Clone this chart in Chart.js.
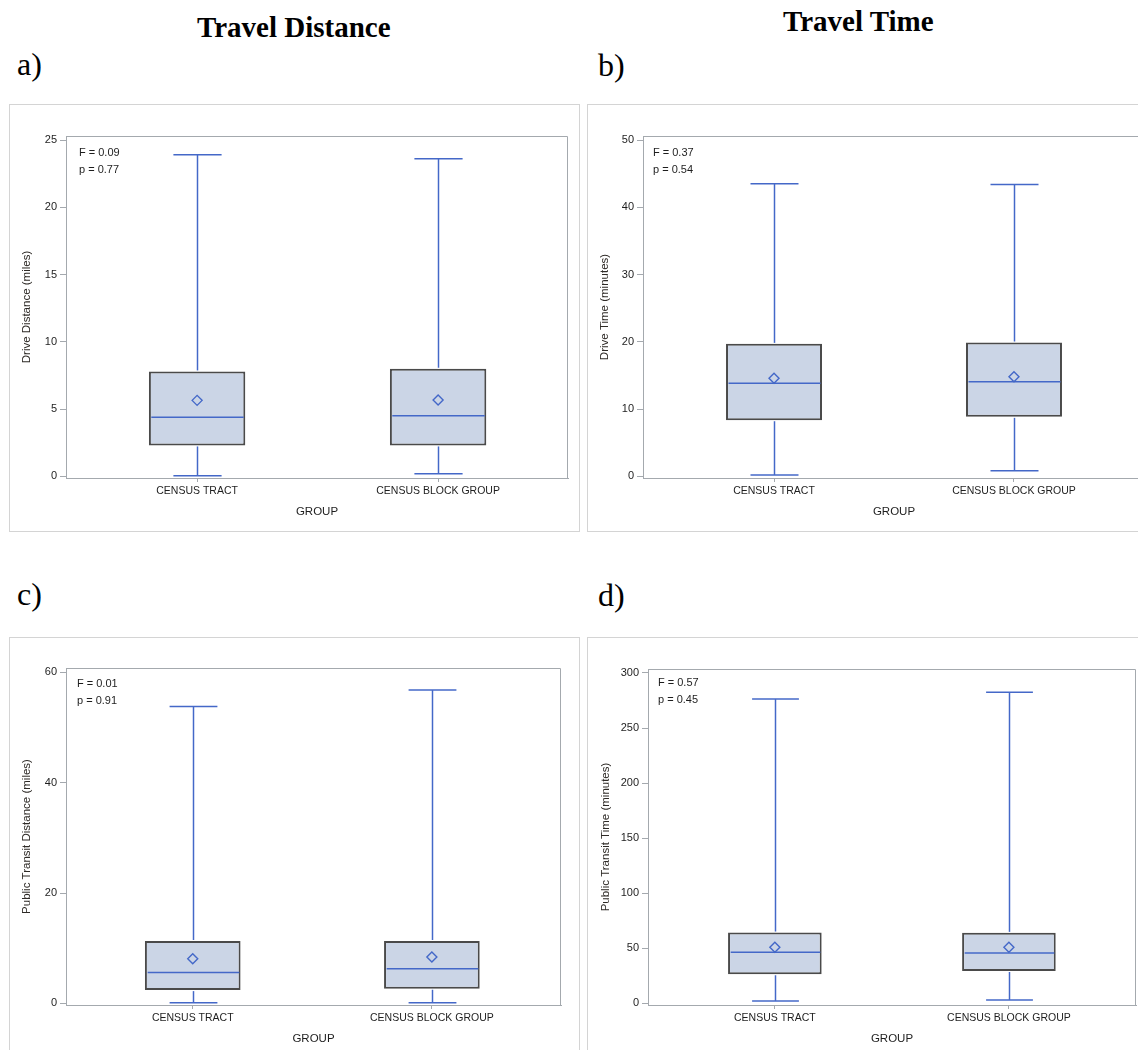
<!DOCTYPE html>
<html>
<head>
<meta charset="utf-8">
<script src="https://cdn.jsdelivr.net/npm/chart.js@4.4.1/dist/chart.umd.min.js"></script>
<style>
html,body{margin:0;padding:0;background:#fff;overflow:hidden;width:1138px;height:1050px;}
.frame{position:absolute;border:1px solid #d4d4d4;box-sizing:border-box;}
canvas{position:absolute;}
.hdr{position:absolute;font-family:'Liberation Serif','Times New Roman',serif;font-weight:bold;font-size:29px;line-height:29px;color:#000;white-space:nowrap;}
.lbl{position:absolute;font-family:'Liberation Serif','Times New Roman',serif;font-size:32px;line-height:32px;color:#000;white-space:nowrap;}
</style>
</head>
<body>
<div class="hdr" style="left:197px;top:13px;">Travel Distance</div>
<div class="hdr" style="left:783px;top:7px;">Travel Time</div>
<div class="lbl" style="left:17px;top:48px;">a)</div>
<div class="lbl" style="left:598px;top:49px;">b)</div>
<div class="lbl" style="left:17px;top:578px;">c)</div>
<div class="lbl" style="left:598px;top:579px;">d)</div>

<div class="frame" style="left:9px;top:104px;width:571px;height:428px;"></div>
<div class="frame" style="left:587px;top:104px;width:600px;height:428px;"></div>
<div class="frame" style="left:9px;top:637px;width:571px;height:500px;"></div>
<div class="frame" style="left:587px;top:637px;width:600px;height:500px;"></div>

<canvas id="ca" width="570" height="427" style="left:9px;top:104px;"></canvas>
<canvas id="cb" width="570" height="427" style="left:587px;top:104px;"></canvas>
<canvas id="cc" width="570" height="420" style="left:9px;top:637px;"></canvas>
<canvas id="cd" width="570" height="420" style="left:587px;top:637px;"></canvas>

<script>
// ---------- DATA ----------
const groups = ['CENSUS TRACT', 'CENSUS BLOCK GROUP'];
const groupPos = [0, 1];
const xTitle = 'GROUP';

// a) Drive distance (miles)
const aTitle = 'Drive Distance (miles)';
const aMin = [0.05, 0.2];
const aQ1 = [2.3, 2.3];
const aMedian = [4.4, 4.5];
const aQ3 = [7.8, 8.0];
const aMax = [23.9, 23.6];
const aMean = [5.65, 5.68];
const aTicks = [0, 5, 10, 15, 20, 25];
const aStats = ['F = 0.09', 'p = 0.77'];

// b) Drive time (minutes)
const bTitle = 'Drive Time (minutes)';
const bMin = [0.2, 0.85];
const bQ1 = [8.35, 8.85];
const bMedian = [13.85, 14.05];
const bQ3 = [19.7, 19.9];
const bMax = [43.5, 43.4];
const bMean = [14.6, 14.8];
const bTicks = [0, 10, 20, 30, 40, 50];
const bStats = ['F = 0.37', 'p = 0.54'];

// c) Public transit distance (miles)
const cTitle = 'Public Transit Distance (miles)';
const cMin = [0.1, 0.1];
const cQ1 = [2.4, 2.65];
const cMedian = [5.6, 6.25];
const cQ3 = [11.3, 11.3];
const cMax = [53.8, 56.8];
const cMean = [8.1, 8.4];
const cTicks = [0, 20, 40, 60];
const cStats = ['F = 0.01', 'p = 0.91'];

// d) Public transit time (minutes)
const dTitle = 'Public Transit Time (minutes)';
const dMin = [2.2, 3.1];
const dQ1 = [26.4, 29.4];
const dMedian = [46.4, 45.8];
const dQ3 = [64.3, 64.0];
const dMax = [276.3, 282.6];
const dMean = [50.9, 50.9];
const dTicks = [0, 50, 100, 150, 200, 250, 300];
const dStats = ['F = 0.57', 'p = 0.45'];

// ---------- STYLE / LAYOUT ----------
const BLUE = '#4468c8';
const BOX_FILL = '#cbd5e6';
const BOX_EDGE = '#4a4a4a';
const WALL = '#a4a9ae';
const TEXT = '#1e1e1e';
const FONT = "'Liberation Sans', Arial, sans-serif";
const CAP_HALF = 0.1;

Chart.defaults.font.family = FONT;
Chart.defaults.color = TEXT;

const panels = [
  { id: 'ca', title: aTitle, min: aMin, q1: aQ1, med: aMedian, q3: aQ3, max: aMax, mean: aMean, ticks: aTicks, stats: aStats,
    pad: { left: 8, top: 32, right: 11, bottom: 9 }, yW: 49, xMin: -0.544, xMax: 1.539, yMin: -0.12, yMax: 25.3, sx: 13, sy1: 17, sy2: 34 },
  { id: 'cb', title: bTitle, min: bMin, q1: bQ1, med: bMedian, q3: bQ3, max: bMax, mean: bMean, ticks: bTicks, stats: bStats,
    pad: { left: 8, top: 32, right: 12, bottom: 9 }, yW: 48, xMin: -0.546, xMax: 1.546, yMin: -0.24, yMax: 50.6, sx: 10, sy1: 17, sy2: 34 },
  { id: 'cc', title: cTitle, min: cMin, q1: cQ1, med: cMedian, q3: cQ3, max: cMax, mean: cMean, ticks: cTicks, stats: cStats,
    pad: { left: 8, top: 31, right: 18, bottom: 8 }, yW: 49, xMin: -0.53, xMax: 1.54, yMin: -0.3, yMax: 60.8, sx: 11, sy1: 16, sy2: 33 },
  { id: 'cd', title: dTitle, min: dMin, q1: dQ1, med: dMedian, q3: dQ3, max: dMax, mean: dMean, ticks: dTicks, stats: dStats,
    pad: { left: 9, top: 32, right: 21, bottom: 8 }, yW: 52, xMin: -0.542, xMax: 1.543, yMin: -1.5, yMax: 303.6, sx: 10, sy1: 14, sy2: 31 }
];

function line(ctx, x1, y1, x2, y2) {
  ctx.beginPath(); ctx.moveTo(x1, y1); ctx.lineTo(x2, y2); ctx.stroke();
}

const boxParts = {
  id: 'boxParts',
  beforeDatasetsDraw(chart) {
    const a = chart.chartArea, ctx = chart.ctx;
    ctx.save();
    ctx.strokeStyle = WALL; ctx.lineWidth = 1;
    const t = Math.round(a.top) + 0.5, r = Math.round(a.right) - 0.5;
    line(ctx, a.left, t, r, t);
    line(ctx, r, t, r, a.bottom);
    ctx.restore();
  },
  afterDatasetDraw(chart, args, opts) {
    if (args.meta.type !== 'bar') return;
    const p = opts.panel;
    const xs = chart.scales.x, ys = chart.scales.y, ctx = chart.ctx;
    ctx.save();
    ctx.strokeStyle = BLUE; ctx.lineWidth = 1.5;
    groupPos.forEach((g, i) => {
      const px = Math.round(xs.getPixelForValue(g)) + 0.5;
      const half = xs.getPixelForValue(g + CAP_HALF) - xs.getPixelForValue(g);
      const yMax = ys.getPixelForValue(p.max[i]);
      const yMin = ys.getPixelForValue(p.min[i]);
      const yQ3 = ys.getPixelForValue(p.q3[i]);
      const yQ1 = ys.getPixelForValue(p.q1[i]);
      const yMed = ys.getPixelForValue(p.med[i]);
      line(ctx, px, yQ3 - 1, px, yMax);
      line(ctx, px, yQ1 + 1, px, yMin);
      line(ctx, px - half, yMax, px + half, yMax);
      line(ctx, px - half, yMin, px + half, yMin);
      const bw = args.meta.data[i].width / 2;
      line(ctx, px - bw + 2, yMed, px + bw - 2, yMed);
    });
    ctx.restore();
  },
  afterDraw(chart, args, opts) {
    const p = opts.panel, a = chart.chartArea, ctx = chart.ctx;
    ctx.save();
    ctx.font = '11px ' + FONT;
    ctx.fillStyle = TEXT;
    ctx.textBaseline = 'middle';
    ctx.textAlign = 'left';
    ctx.fillText(p.stats[0], a.left + p.sx, a.top + p.sy1);
    ctx.fillText(p.stats[1], a.left + p.sx, a.top + p.sy2);
    ctx.restore();
  }
};

panels.forEach(p => {
  new Chart(document.getElementById(p.id), {
    type: 'bar',
    data: {
      datasets: [
        {
          type: 'bar',
          label: 'IQR',
          data: groupPos.map((g, i) => ({ x: g, y: [p.q1[i], p.q3[i]] })),
          backgroundColor: BOX_FILL,
          borderColor: BOX_EDGE,
          borderWidth: 2,
          borderSkipped: false,
          categoryPercentage: 1,
          barPercentage: 0.4,
          order: 2
        },
        {
          type: 'line',
          label: 'Mean',
          data: groupPos.map((g, i) => ({ x: g, y: p.mean[i] })),
          showLine: false,
          pointStyle: 'rectRot',
          pointRadius: 5,
          pointBorderWidth: 1.4,
          pointBorderColor: BLUE,
          pointBackgroundColor: 'rgba(0,0,0,0)',
          order: 1
        }
      ]
    },
    options: {
      responsive: false,
      animation: false,
      devicePixelRatio: 1,
      layout: { padding: p.pad },
      plugins: {
        legend: { display: false },
        tooltip: { enabled: false },
        boxParts: { panel: p }
      },
      scales: {
        x: {
          type: 'linear',
          min: p.xMin, max: p.xMax,
          offset: false,
          grid: { display: true, offset: false, drawOnChartArea: false, drawTicks: true, tickLength: 4, tickColor: WALL },
          border: { display: true, color: WALL, width: 1 },
          afterBuildTicks: s => { s.ticks = groupPos.map(v => ({ value: v })); },
          afterFit: s => { s.height = 44; },
          ticks: {
            font: { size: 10.5 }, color: TEXT, padding: 3, maxRotation: 0, autoSkip: false,
            callback: v => groups[groupPos.indexOf(v)]
          },
          title: { display: true, text: xTitle, font: { size: 11.5 }, color: TEXT, padding: { top: 0, bottom: 3 } }
        },
        y: {
          type: 'linear',
          min: p.yMin, max: p.yMax,
          grid: { display: true, drawOnChartArea: false, drawTicks: true, tickLength: 6, tickColor: WALL },
          border: { display: true, color: WALL, width: 1 },
          afterBuildTicks: s => { s.ticks = p.ticks.map(v => ({ value: v })); },
          afterFit: s => { s.width = p.yW; },
          ticks: { font: { size: 11 }, color: TEXT, padding: 3, callback: v => String(v) },
          title: { display: true, text: p.title, font: { size: 11.5 }, color: '#2e2a26', padding: { top: 3, bottom: 0 } }
        }
      }
    },
    plugins: [boxParts]
  });
});
</script>
</body>
</html>
